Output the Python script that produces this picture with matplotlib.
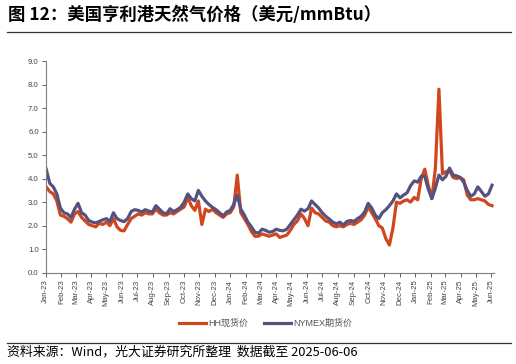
# 美国亨利港天然气价格 chart
import pandas as pd
import matplotlib
matplotlib.use('Agg')
import matplotlib.pyplot as plt
import matplotlib.dates as mdates

plt.rcParams['font.family'] = ['Liberation Sans', 'Noto Sans CJK SC', 'DejaVu Sans']

# weekly dates (Mondays), Jan 2023 - Jun 2025
dates = pd.date_range('2023-01-02', '2025-06-06', freq='W-MON')

# NYMEX futures price, USD/mmBtu
nymex = [4.40, 3.80, 3.65, 3.35, 2.75, 2.55, 2.50, 2.35, 2.70, 2.95,
         2.55, 2.45, 2.22, 2.15, 2.12, 2.18, 2.25, 2.30, 2.18, 2.55,
         2.30, 2.22, 2.17, 2.30, 2.60, 2.68, 2.65, 2.58, 2.68, 2.62,
         2.58, 2.85, 2.70, 2.55, 2.50, 2.72, 2.60, 2.68, 2.78, 3.00,
         3.35, 3.15, 3.05, 3.50, 3.25, 3.05, 2.90, 2.78, 2.68, 2.55,
         2.42, 2.58, 2.65, 2.90, 3.30, 2.70, 2.45, 2.15, 1.95, 1.72,
         1.68, 1.85, 1.80, 1.72, 1.75, 1.85, 1.80, 1.78, 1.85, 2.05,
         2.25, 2.45, 2.70, 2.62, 2.72, 3.05, 2.90, 2.75, 2.55, 2.40,
         2.28, 2.15, 2.08, 2.15, 2.03, 2.18, 2.22, 2.18, 2.30, 2.40,
         2.58, 2.95, 2.75, 2.45, 2.30, 2.55, 2.68, 2.85, 3.05, 3.35,
         3.18, 3.30, 3.40, 3.70, 3.90, 3.85, 4.10, 4.10, 3.55, 3.15,
         3.60, 4.15, 3.95, 4.10, 4.45, 4.15, 4.12, 4.05, 3.85, 3.50,
         3.25, 3.35, 3.65, 3.45, 3.25, 3.35, 3.72]

# Henry Hub spot price, USD/mmBtu
hh = [3.65, 3.45, 3.35, 3.05, 2.45, 2.40, 2.30, 2.15, 2.50, 2.60,
      2.35, 2.20, 2.05, 2.00, 1.95, 2.10, 2.05, 2.15, 2.00, 2.30,
      1.95, 1.80, 1.78, 2.05, 2.30, 2.40, 2.50, 2.45, 2.55, 2.50,
      2.50, 2.70, 2.55, 2.45, 2.45, 2.55, 2.50, 2.60, 2.70, 2.80,
      3.20, 2.85, 2.65, 3.05, 2.05, 2.70, 2.60, 2.70, 2.55, 2.45,
      2.35, 2.50, 2.55, 2.80, 4.15, 2.55, 2.30, 2.05, 1.75, 1.55,
      1.55, 1.65, 1.60, 1.55, 1.60, 1.65, 1.50, 1.55, 1.60, 1.80,
      2.05, 2.20, 2.50, 2.30, 2.00, 2.75, 2.55, 2.50, 2.35, 2.20,
      2.15, 2.00, 1.95, 2.00, 1.95, 2.05, 2.10, 2.05, 2.15, 2.25,
      2.45, 2.80, 2.55, 2.30, 2.00, 1.90, 1.45, 1.18, 1.90, 3.00,
      2.95, 3.05, 3.10, 3.00, 3.20, 3.10, 4.00, 4.40, 3.70, 3.15,
      4.45, 7.80, 4.20, 4.30, 4.35, 4.05, 4.00, 4.05, 3.95, 3.30,
      3.10, 3.10, 3.15, 3.10, 3.05, 2.90, 2.85]

red = '#D2461E'
purple = '#55527F'
grey = '#7F7F7F'

fig = plt.figure(figsize=(5.16, 3.64), dpi=100)
ax = fig.add_axes([0.0886, 0.2508, 0.8688, 0.5816])

ax.plot(dates, hh, color=red, lw=2.3, label='HH现货价')
ax.plot(dates, nymex, color=purple, lw=2.3, label='NYMEX期货价')

ax.set_ylim(0, 9)
ax.set_yticks([i * 1.0 for i in range(10)])
ax.yaxis.set_major_formatter(matplotlib.ticker.FormatStrFormatter('%.1f'))
ax.set_xlim(pd.Timestamp('2023-01-01'), pd.Timestamp('2025-06-06'))
ax.xaxis.set_major_locator(mdates.MonthLocator())
ax.xaxis.set_major_formatter(mdates.DateFormatter('%b-%y'))
ax.tick_params(axis='x', rotation=90, labelsize=5.6, colors='#444444', length=3, width=0.6, pad=2)
ax.tick_params(axis='y', labelsize=5.6, colors='#444444', length=3, width=0.6, pad=2)
for lab in ax.get_xticklabels() + ax.get_yticklabels():
    lab.set_color('#444444')
for s in ['top', 'right']:
    ax.spines[s].set_visible(False)
for s in ['left', 'bottom']:
    ax.spines[s].set_color(grey)
    ax.spines[s].set_linewidth(0.8)

leg = fig.legend(loc='center', bbox_to_anchor=(0.515, 0.112), ncol=2, frameon=False,
                 fontsize=6.5, handlelength=3.0, handletextpad=0.2, columnspacing=1.8)
for t in leg.get_texts():
    t.set_color('#555555')

# title and footer
fig.text(0.016, 0.958, '图 12：美国亨利港天然气价格（美元/mmBtu）', fontsize=12.5,
         fontweight='bold', family=['Noto Sans CJK SC', 'DejaVu Sans'], va='center', ha='left')
fig.add_artist(plt.Line2D([0.014, 0.99], [0.912, 0.912], color='#333333', lw=0.9))
fig.add_artist(plt.Line2D([0.014, 0.99], [0.059, 0.059], color='#333333', lw=0.9))
fig.text(0.014, 0.033, '资料来源：Wind，光大证券研究所整理  数据截至 2025-06-06', fontsize=9.3,
         family=['Noto Sans CJK SC', 'DejaVu Sans'], va='center', ha='left')

fig.savefig('out.png', dpi=100)
